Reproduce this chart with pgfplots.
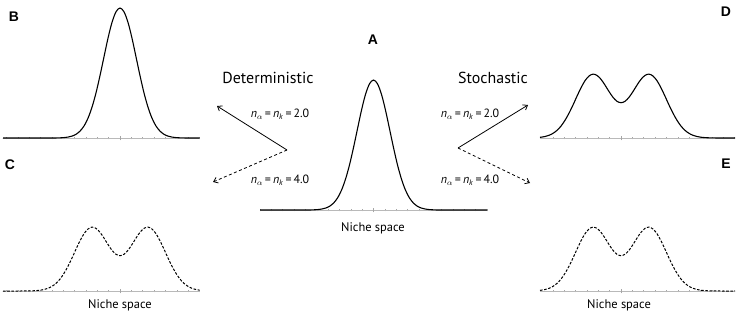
\documentclass[border=0pt]{standalone}
\usepackage{pgfplots}
\pgfplotsset{compat=1.18}
\usepackage{fontspec}
\setmainfont{PT Sans}
\newfontfamily\hv{Liberation Sans}
\usetikzlibrary{arrows.meta}
\pgfplotsset{
  panel/.style={
    x=1bp, y=1bp, ymin=0, ymax=135, clip=false,
    anchor=south west,
    axis y line=none, axis x line=bottom,
    x axis line style={-, draw=gray!55, line width=0.9pt},
    xticklabels={}, extra x tick labels={},
    tick align=center, major tick length=2.5bp,
    tick style={draw=gray!70, line width=0.5pt},
    extra x ticks={0}, extra x tick style={major tick length=4.5bp},
  },
  curve/.style={black, line width=1.1pt, smooth, no markers},
  dcurve/.style={black, line width=1.0pt, smooth, no markers, dash pattern=on 2.6pt off 1.6pt},
}
\newcommand{\lab}[1]{{\hv\bfseries\fontsize{14}{16}\selectfont #1}}
\newcommand{\nn}[1]{\textit{n}\textsubscript{$\alpha$}\,=\,\textit{n}\textsubscript{\textit{k}}\,=\,#1}
\begin{document}
\begin{tikzpicture}[x=1bp,y=1bp]
\path[use as bounding box] (0,0) rectangle (743,315);
% A
\begin{axis}[panel, at={(260,105)}, xmin=-113.5, xmax=113.5,
  xtick={-113.5,-102.15,-90.8,-79.45,-68.1,-56.75,-45.4,-34.05,-22.7,-11.35,0,11.35,22.7,34.05,45.4,56.75,68.1,79.45,90.8,102.15,113.5}]
\addplot[curve] coordinates {(-113.5,0) (-68,0) (-64,0.06) (-60,0.17) (-56,0.41) (-52,0.91) (-48,1.89) (-44,3.71) (-40,6.88) (-36,12.0) (-32,19.8) (-28,30.8) (-24,45.1) (-20,62.4) (-16,81.2) (-12,99.8) (-8,115.6) (-4,126.2) (0,130) (4,126.2) (8,115.6) (12,99.8) (16,81.2) (20,62.4) (24,45.1) (28,30.8) (32,19.8) (36,12.0) (40,6.88) (44,3.71) (48,1.89) (52,0.91) (56,0.41) (60,0.17) (64,0.06) (68,0) (113.5,0)};
\end{axis}
% B
\begin{axis}[panel, at={(3,177)}, xmin=-117, xmax=79.5,
  xtick={-113.5,-102.15,-90.8,-79.45,-68.1,-56.75,-45.4,-34.05,-22.7,-11.35,0,11.35,22.7,34.05,45.4,56.75,68.1,79.45}]
\addplot[curve] coordinates {(-117,0) (-68,0) (-64,0.06) (-60,0.17) (-56,0.41) (-52,0.91) (-48,1.89) (-44,3.71) (-40,6.88) (-36,12.0) (-32,19.8) (-28,30.8) (-24,45.1) (-20,62.4) (-16,81.2) (-12,99.8) (-8,115.6) (-4,126.2) (0,130) (4,126.2) (8,115.6) (12,99.8) (16,81.2) (20,62.4) (24,45.1) (28,30.8) (32,19.8) (36,12.0) (40,6.88) (44,3.71) (48,1.89) (52,0.91) (56,0.41) (60,0.17) (64,0.06) (68,0) (79.5,0)};
\end{axis}
% C
\begin{axis}[panel, at={(3,24)}, xmin=-117, xmax=79.5,
  xtick={-113.5,-102.15,-90.8,-79.45,-68.1,-56.75,-45.4,-34.05,-22.7,-11.35,0,11.35,22.7,34.05,45.4,56.75,68.1,79.45}]
\addplot[dcurve] coordinates {(-117,0) (-100,0) (-96,0.03) (-92,0.08) (-88,0.18) (-84,0.38) (-80,0.77) (-76,1.48) (-72,2.69) (-68,4.66) (-64,7.65) (-60,11.9) (-56,17.7) (-52,24.8) (-48,33.0) (-44,41.8) (-40,50.2) (-36,57.3) (-32,62.0) (-28,63.9) (-24,62.6) (-20,58.7) (-16,52.9) (-12,46.5) (-8,40.7) (-4,36.7) (0,35.3) (4,36.7) (8,40.7) (12,46.5) (16,52.9) (20,58.7) (24,62.6) (28,63.9) (32,62.0) (36,57.3) (40,50.2) (44,41.8) (48,33.0) (52,24.8) (56,17.7) (60,11.9) (64,7.65) (68,4.66) (72,2.69) (76,1.48) (79.5,0.85)};
\end{axis}
% D
\begin{axis}[panel, at={(540,177)}, xmin=-81, xmax=114,
  xtick={-79.45,-68.1,-56.75,-45.4,-34.05,-22.7,-11.35,0,11.35,22.7,34.05,45.4,56.75,68.1,79.45,90.8,102.15,113.5}]
\addplot[curve] coordinates {(-81,0.68) (-76,1.48) (-72,2.69) (-68,4.66) (-64,7.65) (-60,11.9) (-56,17.7) (-52,24.8) (-48,33.0) (-44,41.8) (-40,50.2) (-36,57.3) (-32,62.0) (-28,63.9) (-24,62.6) (-20,58.7) (-16,52.9) (-12,46.5) (-8,40.7) (-4,36.7) (0,35.3) (4,36.7) (8,40.7) (12,46.5) (16,52.9) (20,58.7) (24,62.6) (28,63.9) (32,62.0) (36,57.3) (40,50.2) (44,41.8) (48,33.0) (52,24.8) (56,17.7) (60,11.9) (64,7.65) (68,4.66) (72,2.69) (76,1.48) (80,0.77) (84,0.38) (88,0.18) (92,0.08) (96,0.03) (100,0) (114,0)};
\end{axis}
% E
\begin{axis}[panel, at={(540,24)}, xmin=-81, xmax=114,
  xtick={-79.45,-68.1,-56.75,-45.4,-34.05,-22.7,-11.35,0,11.35,22.7,34.05,45.4,56.75,68.1,79.45,90.8,102.15,113.5}]
\addplot[dcurve] coordinates {(-81,0.68) (-76,1.48) (-72,2.69) (-68,4.66) (-64,7.65) (-60,11.9) (-56,17.7) (-52,24.8) (-48,33.0) (-44,41.8) (-40,50.2) (-36,57.3) (-32,62.0) (-28,63.9) (-24,62.6) (-20,58.7) (-16,52.9) (-12,46.5) (-8,40.7) (-4,36.7) (0,35.3) (4,36.7) (8,40.7) (12,46.5) (16,52.9) (20,58.7) (24,62.6) (28,63.9) (32,62.0) (36,57.3) (40,50.2) (44,41.8) (48,33.0) (52,24.8) (56,17.7) (60,11.9) (64,7.65) (68,4.66) (72,2.69) (76,1.48) (80,0.77) (84,0.38) (88,0.18) (92,0.08) (96,0.03) (100,0) (114,0)};
\end{axis}
% panel letters
\node at (373,275) {\lab{A}};
\node at (14,298) {\lab{B}};
\node at (10,150) {\lab{C}};
\node at (726,303) {\lab{D}};
\node at (726,151) {\lab{E}};
% headings
\node[font=\fontsize{16}{18}\selectfont] at (268,237) {Deterministic};
\node[font=\fontsize{16}{18}\selectfont] at (493,237) {Stochastic};
% arrows
\draw[line width=0.8pt, -{Straight Barb[length=4pt,width=6pt]}] (287,165) -- (217,209);
\draw[line width=0.8pt, dash pattern=on 3pt off 2.5pt, -{Straight Barb[length=4pt,width=6pt]}] (287,165) -- (213,133);
\draw[line width=0.8pt, -{Straight Barb[length=4pt,width=6pt]}] (458,167) -- (528,210);
\draw[line width=0.8pt, dash pattern=on 3pt off 2.5pt, -{Straight Barb[length=4pt,width=6pt]}] (458,167) -- (530,132);
% parameter labels
\node[font=\fontsize{12}{14}\selectfont] at (280,201) {\nn{2.0}};
\node[font=\fontsize{12}{14}\selectfont] at (280,135) {\nn{4.0}};
\node[font=\fontsize{12}{14}\selectfont] at (470,201) {\nn{2.0}};
\node[font=\fontsize{12}{14}\selectfont] at (470,135) {\nn{4.0}};
% axis names
\node[font=\fontsize{12.5}{14}\selectfont] at (373,87) {Niche space};
\node[font=\fontsize{12.5}{14}\selectfont] at (120,10) {Niche space};
\node[font=\fontsize{12.5}{14}\selectfont] at (619,10) {Niche space};
\end{tikzpicture}
\end{document}
